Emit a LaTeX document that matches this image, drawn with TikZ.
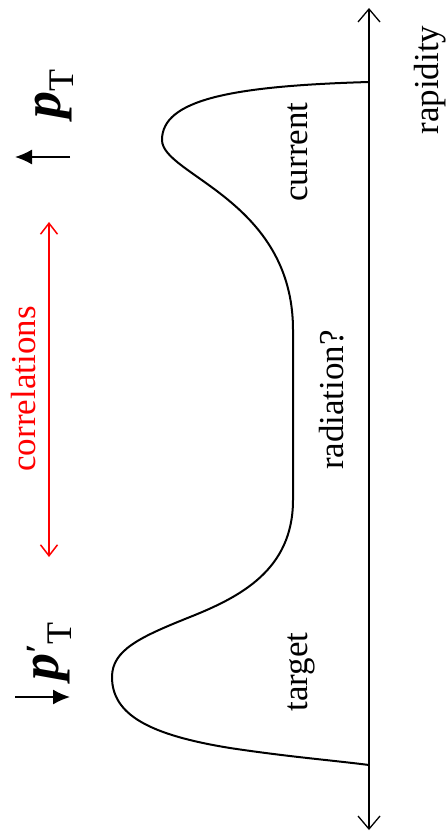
\documentclass[tikz,border=0pt]{standalone}
\usepackage{fontspec}
\setmainfont{Liberation Serif}
\usetikzlibrary{arrows.meta}
\begin{document}
\begin{tikzpicture}[x=1pt,y=-1pt,
  lbl/.style={rotate=90, anchor=base, inner sep=0pt, font=\fontsize{35}{40}\selectfont},
  plbl/.style={rotate=90, anchor=base west, inner sep=0pt},
  axisline/.style={line width=1.3pt, {Straight Barb[length=13pt,width=22pt]}-{Straight Barb[length=13pt,width=22pt]}},
  corrarrow/.style={red, line width=1.5pt, {Straight Barb[length=11pt,width=17pt]}-{Straight Barb[length=11pt,width=17pt]}},
  ptarrow/.style={line width=1.5pt, -{Latex[length=17pt,width=15pt]}},
  curve/.style={line width=2pt}
]
\useasboundingbox (0,0) rectangle (447,834);

% axis
\coordinate (axtop) at (369,8);
\coordinate (axbot) at (369,830);
\draw[axisline] (axbot) -- (axtop);

% distribution curve
\coordinate (cstart) at (369,82);
\coordinate (cend) at (369,765);
\draw[curve] (cstart) .. controls (230,86) and (162,100) .. (162,140)
  .. controls (162,175) and (293,200) .. (293,330)
  -- (293,500)
  .. controls (293,570) and (240,597) .. (190,617)
  .. controls (140,637) and (112,650) .. (112,677)
  .. controls (112,715) and (150,735) .. (230,748)
  .. controls (290,757) and (330,760) .. (cend);

% labels
\node[lbl] (rap) at (438,80) {rapidity};
\node[lbl] (cur) at (307,152) {current};
\node[lbl] (rad) at (343,400) {radiation?};
\node[lbl] (tar) at (307,672) {target};
\node[lbl, text=red] (cor) at (35,389) {correlations};

% correlations arrow
\coordinate (rtop) at (49,222);
\coordinate (rbot) at (49,557);
\draw[corrarrow] (rbot) -- (rtop);

% pT labels
\node[plbl] (pt) at (60,119) {{\fontsize{54}{60}\selectfont\bfseries\itshape p}\raisebox{-13pt}{\fontsize{36}{40}\selectfont T}};
\node[plbl] (ppt) at (58,681) {{\fontsize{54}{60}\selectfont\bfseries\itshape p}\raisebox{9pt}{\fontsize{34}{40}\selectfont\bfseries ′}\raisebox{-13pt}{\fontsize{36}{40}\selectfont T}};

% pT arrows
\coordinate (ua1) at (70,157);
\coordinate (ua2) at (15,157);
\draw[ptarrow] (ua1) -- (ua2);
\coordinate (da1) at (15,697);
\coordinate (da2) at (70,697);
\draw[ptarrow] (da1) -- (da2);
\end{tikzpicture}
\end{document}
